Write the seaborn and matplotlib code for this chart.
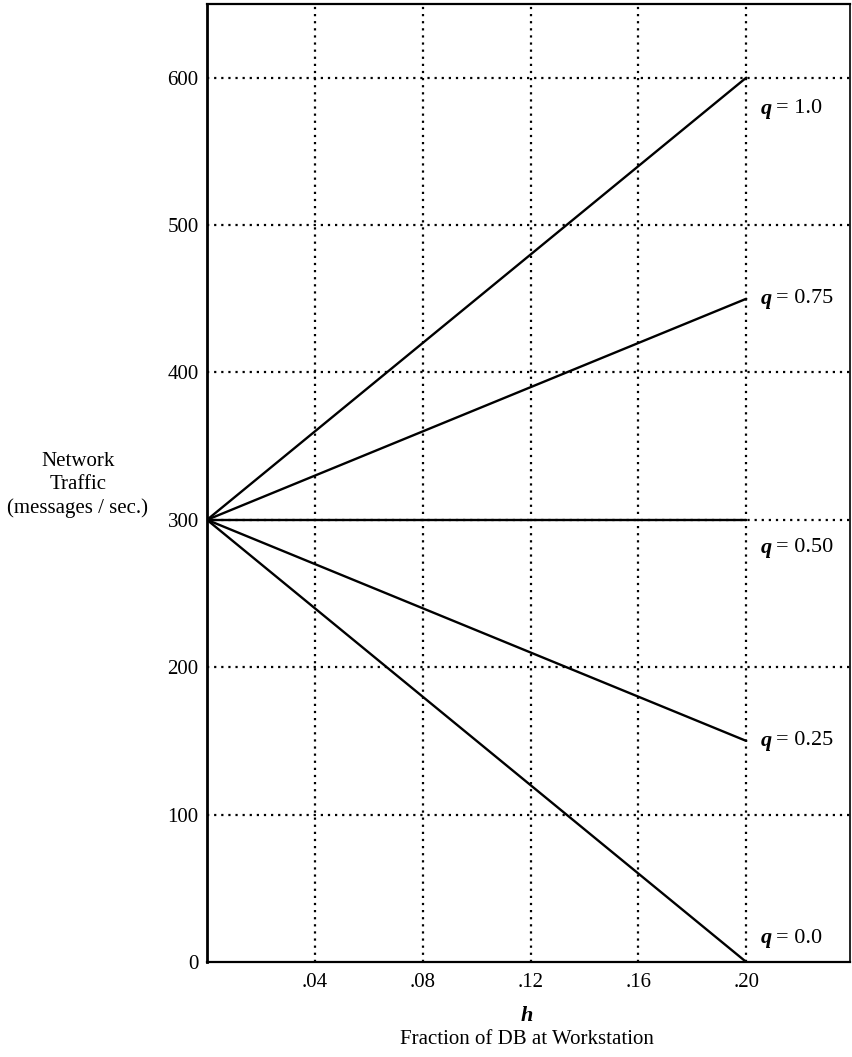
import matplotlib
matplotlib.use("Agg")
import matplotlib.pyplot as plt
import matplotlib.transforms as mtransforms
import numpy as np
import pandas as pd
import seaborn as sns

# Fraction of the database held at the workstation
h_values = [0.0, 0.20]
# Update fraction q for each curve
q_values = [1.0, 0.75, 0.50, 0.25, 0.0]
q_labels = ["1.0", "0.75", "0.50", "0.25", "0.0"]
# Network traffic (messages / sec.) at h = 0 and h = 0.20
traffic_start = [300, 300, 300, 300, 300]
traffic_end = [600, 450, 300, 150, 0]
# Vertical position of each curve label
label_y = [579, 450, 281, 150, 16]

x_ticks = [0.04, 0.08, 0.12, 0.16, 0.20]
x_ticklabels = [".04", ".08", ".12", ".16", ".20"]
y_ticks = [0, 100, 200, 300, 400, 500, 600]

rows = []
for q, y0, y1 in zip(q_values, traffic_start, traffic_end):
    rows.append({"h": h_values[0], "traffic": y0, "q": q})
    rows.append({"h": h_values[1], "traffic": y1, "q": q})
df = pd.DataFrame(rows)

sns.set_theme(style="white")
plt.rcParams["font.family"] = ["Liberation Serif", "DejaVu Serif"]
plt.rcParams["text.color"] = "black"

fig = plt.figure(figsize=(8.53, 10.57), dpi=100)
ax = fig.add_axes([0.2427, 0.0899, 0.9965 - 0.2427, 0.9962 - 0.0899])

dot = (0, (1, 2.2))
for xt in x_ticks:
    ax.axvline(xt, color="black", lw=1.6, ls=dot, zorder=1)
for yt in y_ticks[1:]:
    ax.axhline(yt, color="black", lw=1.6, ls=dot, zorder=1)

sns.lineplot(data=df, x="h", y="traffic", hue="q",
             palette=["black"] * len(q_values), legend=False,
             estimator=None, lw=1.7, ax=ax, zorder=3)

ax.set_xlim(0, 0.2385)
ax.set_ylim(0, 650)
ax.set_xticks(x_ticks)
ax.set_xticklabels(x_ticklabels)
ax.set_yticks(y_ticks)
ax.tick_params(axis="both", length=0, labelsize=15, colors="black")
ax.tick_params(axis="x", pad=8)
ax.tick_params(axis="y", pad=6)
ax.set_xlabel("")
ax.set_ylabel("")
for side in ["left", "bottom", "top", "right"]:
    ax.spines[side].set_color("black")
ax.spines["left"].set_linewidth(2.0)
ax.spines["bottom"].set_linewidth(1.6)
ax.spines["top"].set_linewidth(1.6)
ax.spines["right"].set_linewidth(1.2)

# Curve labels: bold italic q followed by the value
for lab, ly in zip(q_labels, label_y):
    ax.text(0.2052, ly, "q", fontsize=16, fontweight="bold", fontstyle="italic",
            va="center", ha="left", color="black")
    tr = mtransforms.offset_copy(ax.transData, fig=fig, x=16, y=0, units="dots")
    ax.text(0.2052, ly, "= " + lab, fontsize=16, va="center", ha="left",
            color="black", transform=tr)

# Axis titles
fig.text(527 / 853, 1 - 1016 / 1057, "h", fontsize=16, fontweight="bold",
         fontstyle="italic", ha="center", va="center", color="black")
fig.text(527 / 853, 1 - 1039 / 1057, "Fraction of DB at Workstation",
         fontsize=15, ha="center", va="center", color="black")
fig.text(78 / 853, 1 - 485 / 1057, "Network\nTraffic\n(messages / sec.)",
         fontsize=15, ha="center", va="center", linespacing=1.3, color="black")

fig.savefig("out.png", dpi=100, facecolor="white")
